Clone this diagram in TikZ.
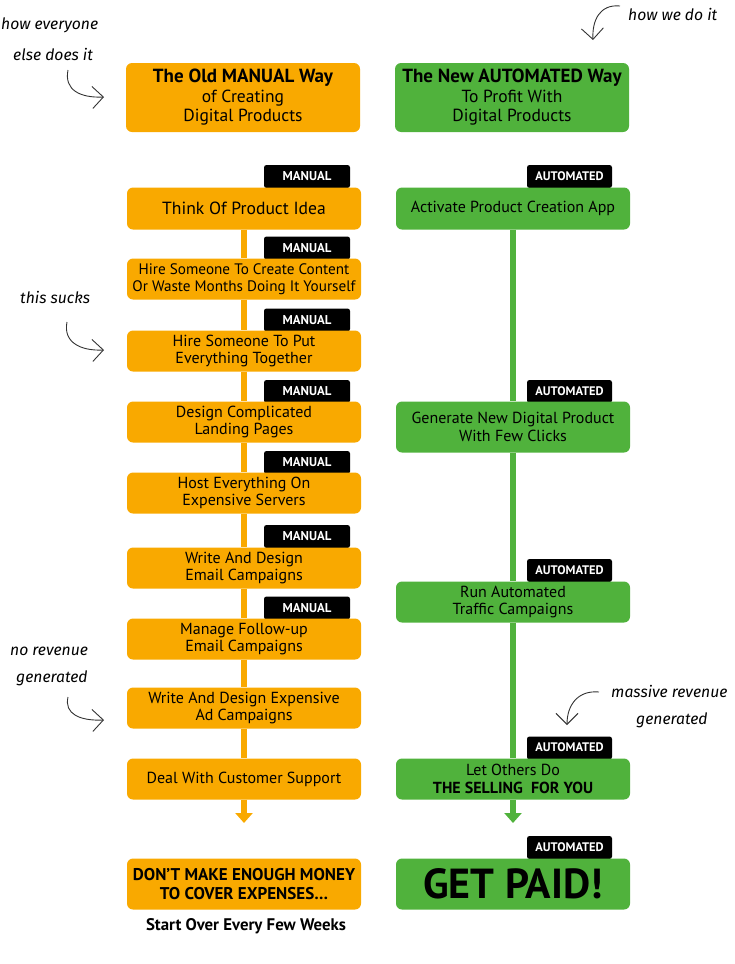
\documentclass[tikz,border=0pt]{standalone}
\usepackage{fontspec}
\setmainfont{PT Sans}
\newfontfamily\handfont{Fira Sans}
\usetikzlibrary{arrows.meta}
\definecolor{oranj}{HTML}{F9A900}
\definecolor{grn}{HTML}{50B23C}
\tikzset{
  basebox/.style={rounded corners=6bp, minimum width=234bp, minimum height=41bp, inner sep=0pt, align=center, font=\fontsize{16bp}{17.5bp}\selectfont},
  ob/.style={basebox, fill=oranj},
  gb/.style={basebox, fill=grn},
  tagbox/.style={fill=black, rounded corners=2.5bp, text=white, font=\bfseries\fontsize{12.8bp}{14bp}\selectfont, minimum height=23bp, minimum width=86bp, inner sep=0pt},
  olink/.style={draw=oranj, line width=6bp},
  glink/.style={draw=grn, line width=6bp},
  endtip/.style={-{Triangle[width=17bp,length=10bp]}},
  note/.style={font=\handfont\itshape\fontsize{15.7bp}{18bp}\selectfont, inner sep=0pt, anchor=west},
  notearrow/.style={draw=black!80, line width=0.9bp, -{Straight Barb[length=11bp,width=22bp]}}
}
\begin{document}
\begin{tikzpicture}[x=1bp,y=-1bp]
\useasboundingbox (0,0) rectangle (735,964);
% tags (behind boxes)
\foreach \yy in {176.5,248,320,391.5,462.5,536.5,608}{
  \node[tagbox] at (307,\yy) {\raisebox{1bp}{MANUAL}};
}
\foreach \yy in {176.5,391.5,570.5,748,847.5}{
  \node[tagbox, minimum width=85bp, font=\bfseries\fontsize{12.4bp}{14bp}\selectfont] at (569.5,\yy) {\raisebox{1bp}{AUTOMATED}};
}
% headers
\node[ob, minimum height=69bp, font=\fontsize{17.5bp}{19.5bp}\selectfont] (oh) at (243,97.5)
  {{\bfseries\fontsize{19bp}{19.5bp}\selectfont The Old MANUAL Way}\\of Creating\\Digital Products};
\node[gb, minimum height=69bp, font=\fontsize{17.5bp}{19.5bp}\selectfont] (gh) at (512,97.5)
  {{\bfseries\fontsize{19bp}{19.5bp}\selectfont The New AUTOMATED Way}\\To Profit With\\Digital Products};
% left column
\node[ob, minimum height=42bp, font=\fontsize{17.6bp}{19bp}\selectfont] (b1) at (244,208.5) {Think Of Product Idea};
\node[ob, font=\fontsize{15.2bp}{17.5bp}\selectfont] (b2) at (244,279) {Hire Someone To Create Content\\Or Waste Months Doing It Yourself};
\node[ob] (b3) at (244,351) {Hire Someone To Put\\Everything Together};
\node[ob] (b4) at (244,422) {Design Complicated\\Landing Pages};
\node[ob] (b5) at (244,493) {Host Everything On\\Expensive Servers};
\node[ob] (b6) at (244,568) {Write And Design\\Email Campaigns};
\node[ob] (b7) at (244,639) {Manage Follow-up\\Email Campaigns};
\node[ob] (b8) at (244,708) {Write And Design Expensive\\Ad Campaigns};
\node[ob] (b9) at (244,779) {Deal With Customer Support};
\node[ob, minimum height=51bp, font=\bfseries\fontsize{17bp}{18.5bp}\selectfont] (bend) at (244,884) {DON’T MAKE ENOUGH MONEY\\TO COVER EXPENSES…};
\node[font=\bfseries\fontsize{16.8bp}{18bp}\selectfont, inner sep=0pt] (again) at (246,926) {Start Over Every Few Weeks};
% right column
\node[gb, minimum height=42bp] (r1) at (513,208.5) {Activate Product Creation App};
\node[gb, minimum height=51bp] (r2) at (513,427) {Generate New Digital Product\\With Few Clicks};
\node[gb] (r3) at (513,602) {Run Automated\\Traffic Campaigns};
\node[gb] (r4) at (513,779) {Let Others Do\\{\bfseries THE SELLING\ \ FOR YOU}};
\node[gb, minimum height=51bp, font=\bfseries\fontsize{42bp}{42bp}\selectfont] (rend) at (513,884) {GET PAID!};
% connectors
\draw[olink] (b1.south) -- (b2.north);
\draw[olink] (b2.south) -- (b3.north);
\draw[olink] (b3.south) -- (b4.north);
\draw[olink] (b4.south) -- (b5.north);
\draw[olink] (b5.south) -- (b6.north);
\draw[olink] (b6.south) -- (b7.north);
\draw[olink] (b7.south) -- (b8.north);
\draw[olink] (b8.south) -- (b9.north);
\coordinate (oarr) at (244,823);
\draw[olink, endtip] (b9.south) -- (oarr);
\draw[glink] (r1.south) -- (r2.north);
\draw[glink] (r2.south) -- (r3.north);
\draw[glink] (r3.south) -- (r4.north);
\coordinate (garr) at (513,823);
\draw[glink, endtip] (r4.south) -- (garr);
% notes
\node[note] (n1a) at (1,25) {how everyone};
\node[note] (n1b) at (13,54) {else does it};
\coordinate (a1s) at (68,70); \coordinate (a1e) at (104,97);
\draw[notearrow] (a1s) .. controls (64,90) and (80,98) .. (a1e);
\node[note] (n2) at (628,14) {how we do it};
\coordinate (a2s) at (620,6); \coordinate (a2e) at (593,40);
\draw[notearrow] (a2s) .. controls (600,4) and (592,20) .. (a2e);
\node[note] (n3) at (20,297) {this sucks};
\coordinate (a3s) at (67,322); \coordinate (a3e) at (104,350);
\draw[notearrow] (a3s) .. controls (63,342) and (80,351) .. (a3e);
\node[note] (n4a) at (10,651) {no revenue};
\node[note] (n4b) at (16,678) {generated};
\coordinate (a4s) at (68,697); \coordinate (a4e) at (104,720);
\draw[notearrow] (a4s) .. controls (64,714) and (80,721) .. (a4e);
\node[note] (n5a) at (611,691) {massive revenue};
\node[note] (n5b) at (636,720) {generated};
\coordinate (a5s) at (599,692); \coordinate (a5e) at (567,725);
\draw[notearrow] (a5s) .. controls (578,690) and (567,705) .. (a5e);
\end{tikzpicture}
\end{document}
